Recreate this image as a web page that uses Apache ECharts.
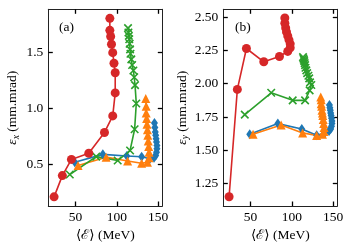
<!DOCTYPE html>
<html><head><meta charset="utf-8">
<script src="https://cdn.jsdelivr.net/npm/echarts@6/dist/echarts.min.js"></script>
<style>html,body{margin:0;padding:0;background:#fff}#c{width:350px;height:250px}</style>
</head><body><div id="c"></div>
<script>
// ---- data ----
const energyBlue   = [49, 83, 112, 130, 140, 145, 147, 148, 148.5, 148.5, 148, 147.5, 147, 146.5, 146, 145.5];
const emitXBlue    = [0.52, 0.59, 0.575, 0.568, 0.55, 0.56, 0.58, 0.61, 0.64, 0.67, 0.70, 0.73, 0.76, 0.79, 0.83, 0.87];
const emitYBlue    = [1.62, 1.70, 1.66, 1.612, 1.63, 1.645, 1.66, 1.68, 1.70, 1.72, 1.74, 1.76, 1.78, 1.80, 1.82, 1.84];

const energyOrange = [53, 87, 113, 130, 137, 139, 139, 138.5, 138, 137.5, 137, 136.5, 136, 135.5, 135.5, 135];
const emitXOrange  = [0.49, 0.565, 0.53, 0.51, 0.52, 0.56, 0.61, 0.66, 0.71, 0.76, 0.81, 0.86, 0.91, 0.96, 1.02, 1.09];
const emitYOrange  = [1.62, 1.69, 1.63, 1.61, 1.62, 1.64, 1.67, 1.70, 1.73, 1.76, 1.78, 1.80, 1.83, 1.85, 1.88, 1.90];

const energyGreen  = [43, 75, 101, 116, 121.5, 123.5, 122, 121, 120, 118.5, 117.5, 116.5, 116, 115.5, 115, 114.5, 114, 113.5];
const emitXGreen   = [0.41, 0.57, 0.535, 0.625, 0.815, 1.045, 1.21, 1.28, 1.34, 1.39, 1.44, 1.49, 1.53, 1.58, 1.62, 1.65, 1.68, 1.72];
const emitYGreen   = [1.768, 1.932, 1.875, 1.875, 1.95, 1.99, 2.01, 2.04, 2.06, 2.08, 2.10, 2.12, 2.14, 2.155, 2.17, 2.18, 2.19, 2.20];

const energyRed    = [24, 34, 45, 66, 85, 95, 98, 98, 96.5, 95, 93.5, 92.5, 91.5, 91.5];
const emitXRed     = [0.21, 0.40, 0.545, 0.60, 0.786, 0.934, 1.14, 1.32, 1.405, 1.50, 1.575, 1.645, 1.70, 1.807];
const emitYRed     = [1.15, 1.957, 2.265, 2.165, 2.205, 2.243, 2.27, 2.30, 2.33, 2.36, 2.39, 2.42, 2.455, 2.495];

const xTicks   = [50, 100, 150];
const yTicksA  = [0.5, 1.0, 1.5];
const yTicksB  = [1.25, 1.5, 1.75, 2.0, 2.25, 2.5];
const xRange   = [17, 155];
const yRangeA  = [0.128, 1.888];
const yRangeB  = [1.08, 2.56];
const panelLabels = ['(a)', '(b)'];

// ---- styling ----
const FONT = '"Liberation Serif","DejaVu Serif",serif';
const FS = 13.5;
const C = {blue:'#1f77b4', orange:'#ff7f0e', green:'#2ca02c', red:'#d62728'};
const axLine = {show:true, lineStyle:{color:'#222', width:1}};
const tick = vals => ({show:true, inside:true, length:4.5, lineStyle:{color:'#000', width:1.3}, customValues: vals});
const zip = (a,b) => a.map((v,i)=>[v,b[i]]);

function xAx(grid, pos, showLabel){
  return {type:'value', gridIndex:grid, position:pos, min:xRange[0], max:xRange[1],
    axisLine:axLine, axisTick:tick(xTicks), splitLine:{show:false},
    axisLabel: showLabel ? {show:true, customValues:xTicks, color:'#000', fontFamily:FONT, fontSize:FS, margin:4} : {show:false},
    name: showLabel ? '⟨ℰ⟩ (MeV)' : '', nameLocation:'middle', nameGap:21,
    nameTextStyle:{color:'#000', fontFamily:FONT, fontSize:FS}};
}
function yAx(grid, pos, rng, ticks, dec, label){
  const o = {type:'value', gridIndex:grid, position:pos, min:rng[0], max:rng[1],
    axisLine:axLine, axisTick:tick(ticks), splitLine:{show:false},
    axisLabel:{show:false}};
  if(label){
    o.axisLabel = {show:true, customValues:ticks, formatter:v=>v.toFixed(dec), color:'#000', fontFamily:FONT, fontSize:FS, margin:5};
    o.name = label; o.nameLocation='middle'; o.nameRotate=90; o.nameGap = (dec===1?27:32);
    o.nameTextStyle = {color:'#000', fontFamily:FONT, fontSize:FS,
      rich:{e:{fontFamily:FONT, fontSize:FS, fontStyle:'italic', color:'#000'},
            s:{fontFamily:FONT, fontSize:9.5, fontStyle:'italic', color:'#000', padding:[7,0,0,0]},
            t:{fontFamily:FONT, fontSize:FS, color:'#000'}}};
  }
  return o;
}
function ser(name, color, sym, size, xi, yi, ex, ey, extra){
  return Object.assign({type:'line', name, xAxisIndex:xi, yAxisIndex:yi, data:zip(ex,ey),
    symbol:sym, symbolSize:size, showSymbol:true, clip:false, animation:false,
    lineStyle:{color, width:1.6}, itemStyle:{color}}, extra||{});
}
const XSYM = 'path://M0,0L10,10M10,0L0,10';
const greenExtra = {itemStyle:{color:'rgba(0,0,0,0)', borderColor:C.green, borderWidth:1.6}};

const chart = echarts.init(document.getElementById('c'), null, {renderer:'canvas'});
chart.setOption({
  animation:false,
  grid:[{left:48.3, top:9.3, width:114, height:196.7},
        {left:223.3, top:9.3, width:114, height:196.7}],
  xAxis:[xAx(0,'bottom',true), xAx(0,'top',false), xAx(1,'bottom',true), xAx(1,'top',false)],
  yAxis:[yAx(0,'left',yRangeA,yTicksA,1,'{e|ε}{s|x}{t| (mm.mrad)}'), yAx(0,'right',yRangeA,yTicksA,1,null),
         yAx(1,'left',yRangeB,yTicksB,2,'{e|ε}{s|y}{t| (mm.mrad)}'), yAx(1,'right',yRangeB,yTicksB,2,null)],
  series:[
    ser('b', C.blue, 'diamond', [7,10], 0,0, energyBlue, emitXBlue),
    ser('o', C.orange, 'triangle', 9, 0,0, energyOrange, emitXOrange),
    ser('g', C.green, XSYM, 7.5, 0,0, energyGreen, emitXGreen, greenExtra),
    ser('r', C.red, 'circle', 9, 0,0, energyRed, emitXRed),
    ser('b2', C.blue, 'diamond', [7,10], 2,2, energyBlue, emitYBlue),
    ser('o2', C.orange, 'triangle', 9, 2,2, energyOrange, emitYOrange),
    ser('g2', C.green, XSYM, 7.5, 2,2, energyGreen, emitYGreen, greenExtra),
    ser('r2', C.red, 'circle', 9, 2,2, energyRed, emitYRed)
  ],
  graphic:[
    {type:'text', left:59, top:20, style:{text:panelLabels[0], font:FS+'px '+FONT, fill:'#000'}},
    {type:'text', left:235, top:20, style:{text:panelLabels[1], font:FS+'px '+FONT, fill:'#000'}}
  ]
});
</script></body></html>
